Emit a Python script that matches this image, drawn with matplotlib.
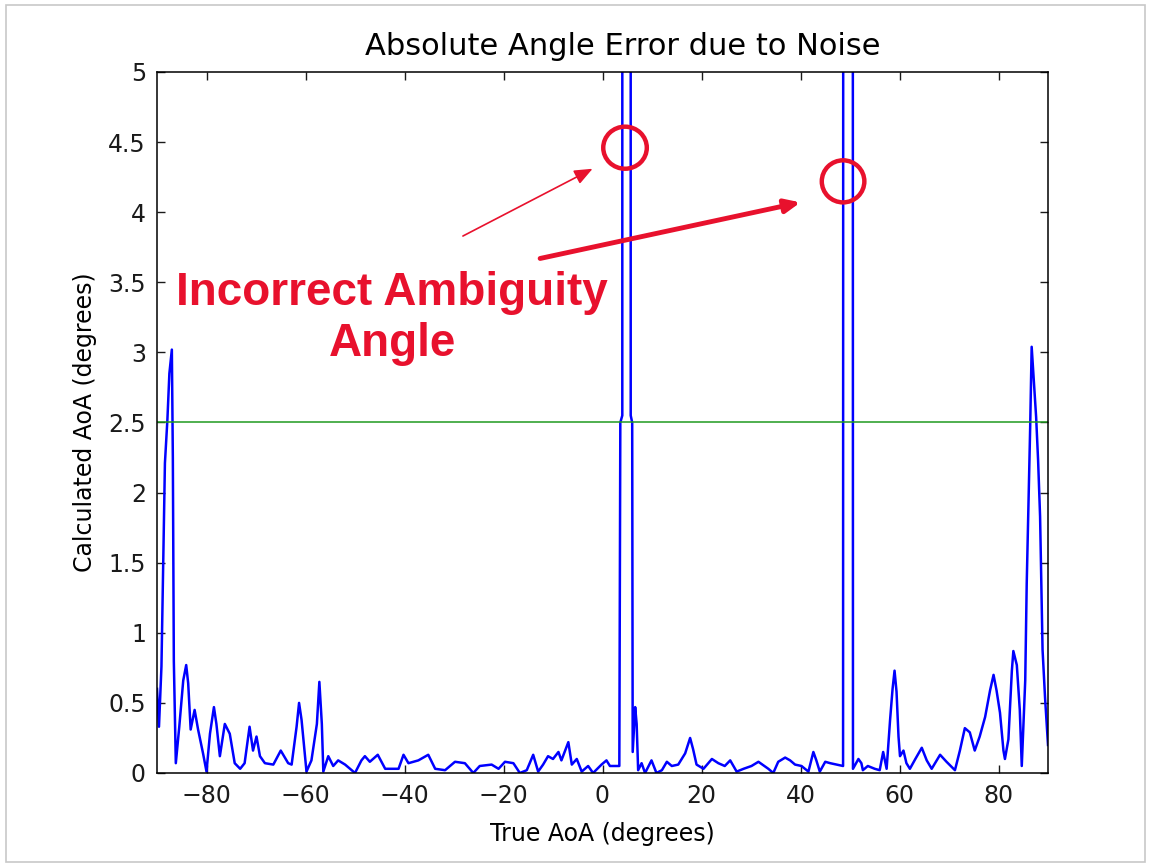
import numpy as np
import matplotlib.pyplot as plt
from matplotlib.patches import Ellipse, Rectangle

# vertices of the error curve (true AoA, abs error), degrees
aoa = [-90.0, -89.6, -89.1, -88.7, -88.4, -87.9, -87.5, -87.0, -86.8, -86.6,
       -86.2, -85.5, -84.7, -84.1, -83.7, -83.2, -82.4, -81.7, -80.7, -80.0,
       -79.3, -78.5, -78.0, -77.3, -76.3, -75.3, -74.3, -73.2, -72.3, -71.3,
       -70.6, -69.9, -69.2, -68.2, -66.5, -65.0, -63.5, -62.8, -61.8, -61.3,
       -60.8, -59.8, -58.8, -57.7, -57.2, -56.7, -56.4, -55.4, -54.4, -53.4,
       -52.0, -50.0, -48.7, -48.0, -47.0, -45.4, -43.9, -41.2, -40.2, -39.2,
       -37.2, -35.2, -33.8, -31.8, -29.8, -27.8, -26.1, -24.8, -22.4, -21.0,
       -19.7, -18.0, -16.7, -15.3, -14.0, -13.0, -12.0, -11.0, -10.0, -8.9,
       -8.3, -6.9, -6.2, -5.2, -4.2, -2.9, -1.9, -0.2, 0.8, 1.5,
       3.4, 3.6, 4.0, 4.1, 5.6, 5.7, 6.0, 6.1, 6.6, 6.9,
       7.2, 7.9, 8.6, 9.9, 10.9, 12.0, 13.0, 14.0, 15.3, 16.7,
       17.7, 18.3, 19.0, 20.4, 22.1, 23.4, 24.7, 25.8, 27.1, 28.5,
       30.1, 31.5, 33.5, 34.5, 35.5, 36.9, 37.9, 38.9, 40.2, 41.6,
       42.6, 43.2, 43.9, 45.0, 46.0, 47.3, 48.6, 48.9, 50.3, 50.6,
       51.7, 52.3, 52.6, 53.6, 55.0, 56.0, 56.7, 57.4, 58.1, 58.6,
       59.0, 59.4, 59.8, 60.1, 60.8, 61.4, 62.1, 63.2, 64.5, 65.5,
       66.5, 68.2, 69.5, 71.2, 72.2, 73.2, 74.2, 75.2, 76.2, 77.3,
       78.3, 79.0, 79.6, 80.3, 81.0, 81.3, 82.0, 82.7, 83.0, 83.7,
       84.3, 84.7, 85.4, 85.7, 86.4, 86.7, 87.0, 87.6, 88.0, 88.4,
       88.9, 89.4, 90.0]
err = [0.60, 0.33, 0.76, 1.61, 2.21, 2.52, 2.85, 3.02, 2.25, 0.80,
       0.07, 0.33, 0.66, 0.77, 0.64, 0.31, 0.45, 0.31, 0.14, 0.01,
       0.28, 0.47, 0.35, 0.12, 0.35, 0.28, 0.07, 0.03, 0.07, 0.33,
       0.16, 0.26, 0.12, 0.07, 0.06, 0.16, 0.07, 0.06, 0.33, 0.50,
       0.38, 0.01, 0.09, 0.35, 0.65, 0.35, 0.01, 0.12, 0.05, 0.09,
       0.06, 0.00, 0.09, 0.12, 0.08, 0.13, 0.03, 0.03, 0.13, 0.07,
       0.09, 0.13, 0.03, 0.02, 0.08, 0.07, 0.00, 0.05, 0.06, 0.03,
       0.08, 0.07, 0.00, 0.02, 0.13, 0.01, 0.06, 0.12, 0.10, 0.15,
       0.09, 0.22, 0.06, 0.10, 0.01, 0.05, 0.00, 0.06, 0.09, 0.05,
       0.05, 2.50, 2.55, 60.0, 60.0, 2.55, 2.50, 0.15, 0.47, 0.35,
       0.02, 0.07, 0.00, 0.09, 0.00, 0.02, 0.08, 0.05, 0.06, 0.14,
       0.25, 0.17, 0.06, 0.03, 0.10, 0.07, 0.05, 0.09, 0.01, 0.03,
       0.05, 0.08, 0.03, 0.00, 0.08, 0.11, 0.09, 0.06, 0.05, 0.01,
       0.15, 0.09, 0.01, 0.08, 0.07, 0.06, 0.05, 60.0, 60.0, 0.03,
       0.10, 0.07, 0.02, 0.05, 0.03, 0.02, 0.15, 0.03, 0.38, 0.60,
       0.73, 0.58, 0.26, 0.12, 0.16, 0.07, 0.03, 0.10, 0.18, 0.09,
       0.03, 0.13, 0.08, 0.02, 0.16, 0.32, 0.29, 0.16, 0.26, 0.40,
       0.59, 0.70, 0.59, 0.43, 0.16, 0.10, 0.24, 0.73, 0.87, 0.77,
       0.45, 0.05, 0.66, 1.35, 2.47, 3.04, 2.87, 2.54, 2.23, 1.83,
       0.88, 0.54, 0.20]

threshold = 2.5
xticks = [-80, -60, -40, -20, 0, 20, 40, 60, 80]
yticks = [0, 0.5, 1, 1.5, 2, 2.5, 3, 3.5, 4, 4.5, 5]
ytick_labels = ['0', '0.5', '1', '1.5', '2', '2.5', '3', '3.5', '4', '4.5', '5']

red = '#e8112d'

fig = plt.figure(figsize=(11.49, 8.65), dpi=100)
# thin grey frame of the screenshot
fig.patches.append(Rectangle((6 / 1149, 3 / 865), 1139 / 1149, 857 / 865,
                             transform=fig.transFigure, fill=False,
                             edgecolor='#c8c8c8', linewidth=1.2))

ax = fig.add_axes([157 / 1149, 92 / 865, 891 / 1149, 701 / 865])
ax.plot(aoa, err, color='blue', linewidth=1.8)
ax.axhline(threshold, color='#1f9a1f', linewidth=1.1)

ax.set_xlim(-90, 90)
ax.set_ylim(0, 5)
ax.set_xticks(xticks)
ax.set_yticks(yticks)
ax.set_yticklabels(ytick_labels)
ax.tick_params(direction='in', length=6, width=1, labelsize=17,
               top=True, right=True, pad=8, colors='#1a1a1a')
for s in ax.spines.values():
    s.set_linewidth(1.1)

ax.set_title('Absolute Angle Error due to Noise', fontsize=22, pad=12, x=0.523)
ax.set_xlabel('True AoA (degrees)', fontsize=17, labelpad=10)
ax.set_ylabel('Calculated AoA (degrees)', fontsize=17, labelpad=8)

# red annotation
ax.add_patch(Ellipse((4.55, 4.46), 8.8, 0.30, fill=False, edgecolor=red,
                     linewidth=3.2, zorder=5))
ax.add_patch(Ellipse((48.6, 4.22), 8.6, 0.30, fill=False, edgecolor=red,
                     linewidth=3.2, zorder=5))
ax.annotate('', xy=(-2.0, 4.31), xytext=(-28.2, 3.83),
            arrowprops=dict(arrowstyle='-|>,head_length=1.1,head_width=0.45',
                            color=red, linewidth=1.2, shrinkA=0, shrinkB=0))
ax.annotate('', xy=(40.0, 4.07), xytext=(-12.6, 3.67),
            arrowprops=dict(arrowstyle='-|>,head_length=0.9,head_width=0.4',
                            color=red, linewidth=3.5, shrinkA=0, shrinkB=0))
ax.text(-42.5, 3.24, 'Incorrect Ambiguity\nAngle', color=red, fontsize=33,
        fontweight='bold', family='Liberation Sans', ha='center', va='center',
        linespacing=1.22)

fig.savefig('out.png', dpi=100)
